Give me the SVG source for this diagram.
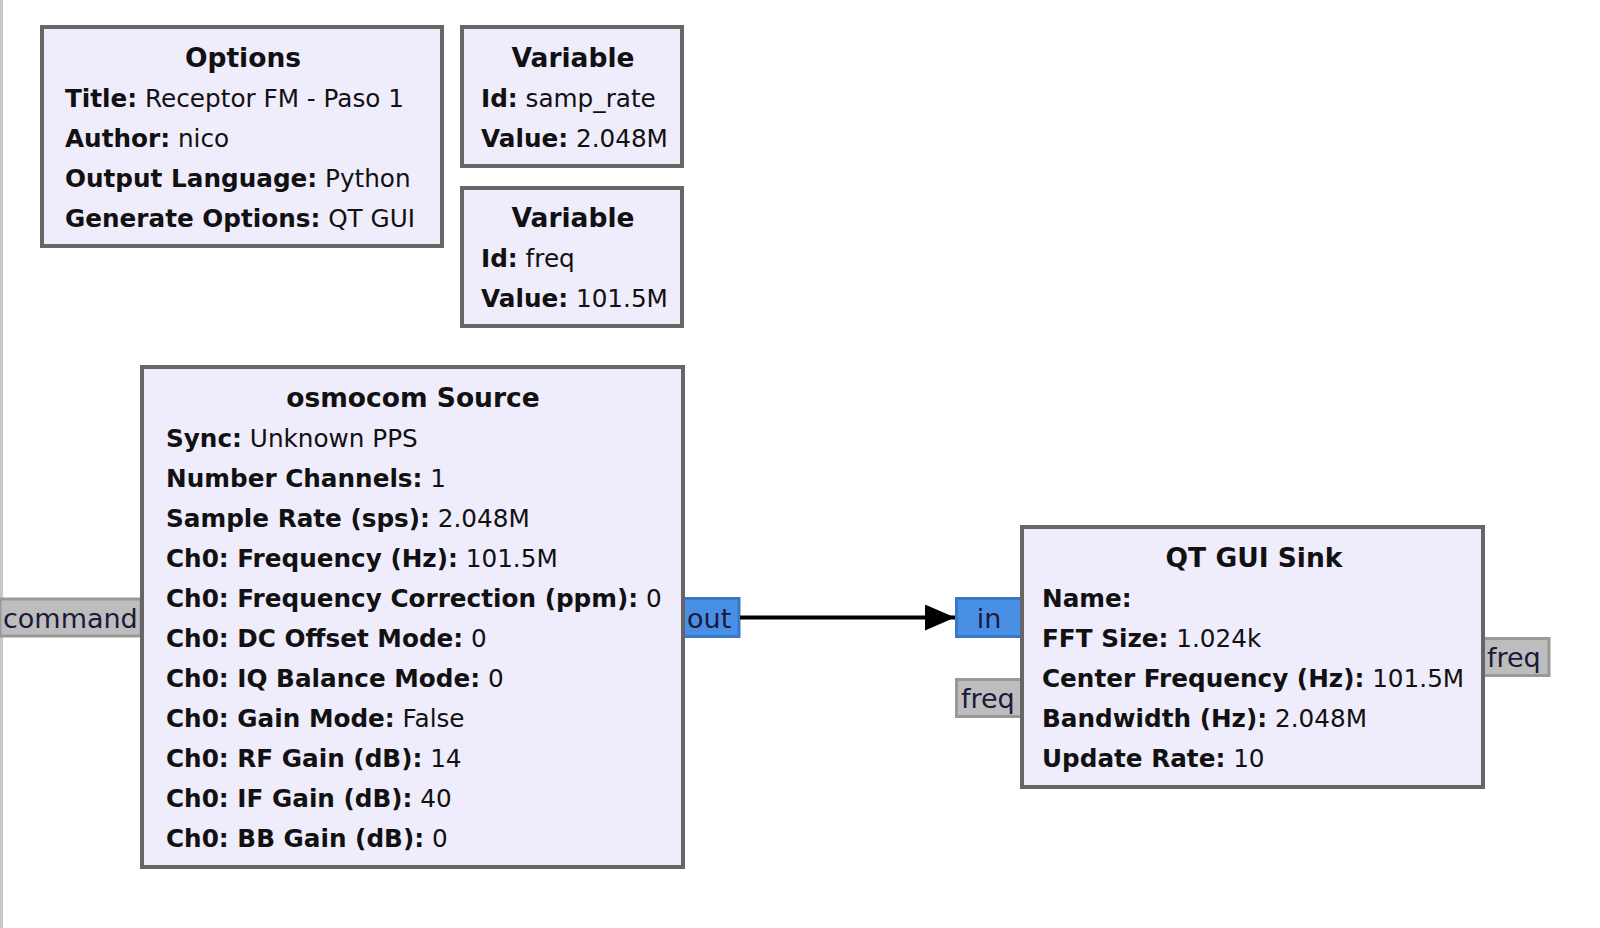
<svg xmlns="http://www.w3.org/2000/svg" width="1600" height="928" viewBox="0 0 1600 928">
<style>
.blk{fill:#EFECFB;stroke:#666666;stroke-width:4}
.pb{fill:#4A8FE6;stroke:#3A78C8;stroke-width:3}
.pg{fill:#BDBDBD;stroke:#999999;stroke-width:3}
text{font-family:"DejaVu Sans",sans-serif;font-size:24.7px;fill:#111111}
.t{font-weight:bold;font-size:26.5px;text-anchor:middle}
.b{font-weight:bold}
.pl{font-size:27px;fill:#1a1a3a}
.c{text-anchor:middle}
</style>
<defs>
<marker id="ah" markerUnits="userSpaceOnUse" markerWidth="30" markerHeight="26" refX="30" refY="13" orient="auto">
<path d="M0,0 L30,13 L0,26 Z" fill="#000"/>
</marker>
</defs>
<rect x="0" y="0" width="1600" height="928" fill="#ffffff"/>
<rect x="0" y="0" width="3" height="928" fill="#C8C8C8"/>

<g id="options">
<rect class="blk" x="42" y="27" width="400" height="219"/>
<text class="t" x="243" y="67">Options</text>
<text x="65" y="107"><tspan class="b">Title:</tspan> Receptor FM - Paso 1</text>
<text x="65" y="147"><tspan class="b">Author:</tspan> nico</text>
<text x="65" y="187"><tspan class="b">Output Language:</tspan> Python</text>
<text x="65" y="227"><tspan class="b">Generate Options:</tspan> QT GUI</text>
</g>

<g id="var_samp_rate">
<rect class="blk" x="462" y="27" width="220" height="139"/>
<text class="t" x="573" y="67">Variable</text>
<text x="481" y="107"><tspan class="b">Id:</tspan> samp_rate</text>
<text x="481" y="147"><tspan class="b">Value:</tspan> 2.048M</text>
</g>

<g id="var_freq">
<rect class="blk" x="462" y="188" width="220" height="138"/>
<text class="t" x="573" y="227">Variable</text>
<text x="481" y="267"><tspan class="b">Id:</tspan> freq</text>
<text x="481" y="307"><tspan class="b">Value:</tspan> 101.5M</text>
</g>

<g id="osmocom_source">
<rect class="pg" x="0" y="599" width="141" height="37"/>
<text class="pl" x="3" y="628">command</text>
<rect class="pb" x="683" y="598.5" width="56" height="38"/>
<text class="pl" x="687" y="628">out</text>
<rect class="blk" x="142" y="367" width="541" height="500"/>
<text class="t" x="413" y="407">osmocom Source</text>
<text x="166" y="447"><tspan class="b">Sync:</tspan> Unknown PPS</text>
<text x="166" y="487"><tspan class="b">Number Channels:</tspan> 1</text>
<text x="166" y="527"><tspan class="b">Sample Rate (sps):</tspan> 2.048M</text>
<text x="166" y="567"><tspan class="b">Ch0: Frequency (Hz):</tspan> 101.5M</text>
<text x="166" y="607"><tspan class="b">Ch0: Frequency Correction (ppm):</tspan> 0</text>
<text x="166" y="647"><tspan class="b">Ch0: DC Offset Mode:</tspan> 0</text>
<text x="166" y="687"><tspan class="b">Ch0: IQ Balance Mode:</tspan> 0</text>
<text x="166" y="727"><tspan class="b">Ch0: Gain Mode:</tspan> False</text>
<text x="166" y="767"><tspan class="b">Ch0: RF Gain (dB):</tspan> 14</text>
<text x="166" y="807"><tspan class="b">Ch0: IF Gain (dB):</tspan> 40</text>
<text x="166" y="847"><tspan class="b">Ch0: BB Gain (dB):</tspan> 0</text>
</g>

<g id="qt_gui_sink">
<rect class="pb" x="956.5" y="598.5" width="66" height="38"/>
<text class="pl c" x="989" y="628">in</text>
<rect class="pg" x="956.5" y="679.5" width="66" height="37"/>
<text class="pl" x="961" y="708">freq</text>
<rect class="pg" x="1483" y="638.5" width="66" height="37"/>
<text class="pl" x="1487" y="667">freq</text>
<rect class="blk" x="1022" y="527" width="461" height="260"/>
<text class="t" x="1254" y="567">QT GUI Sink</text>
<text x="1042" y="607"><tspan class="b">Name:</tspan></text>
<text x="1042" y="647"><tspan class="b">FFT Size:</tspan> 1.024k</text>
<text x="1042" y="687"><tspan class="b">Center Frequency (Hz):</tspan> 101.5M</text>
<text x="1042" y="727"><tspan class="b">Bandwidth (Hz):</tspan> 2.048M</text>
<text x="1042" y="767"><tspan class="b">Update Rate:</tspan> 10</text>
</g>

<g id="connectors">
<line x1="740" y1="617.5" x2="955" y2="617.5" stroke="#000" stroke-width="4" marker-end="url(#ah)"/>
</g>
</svg>
